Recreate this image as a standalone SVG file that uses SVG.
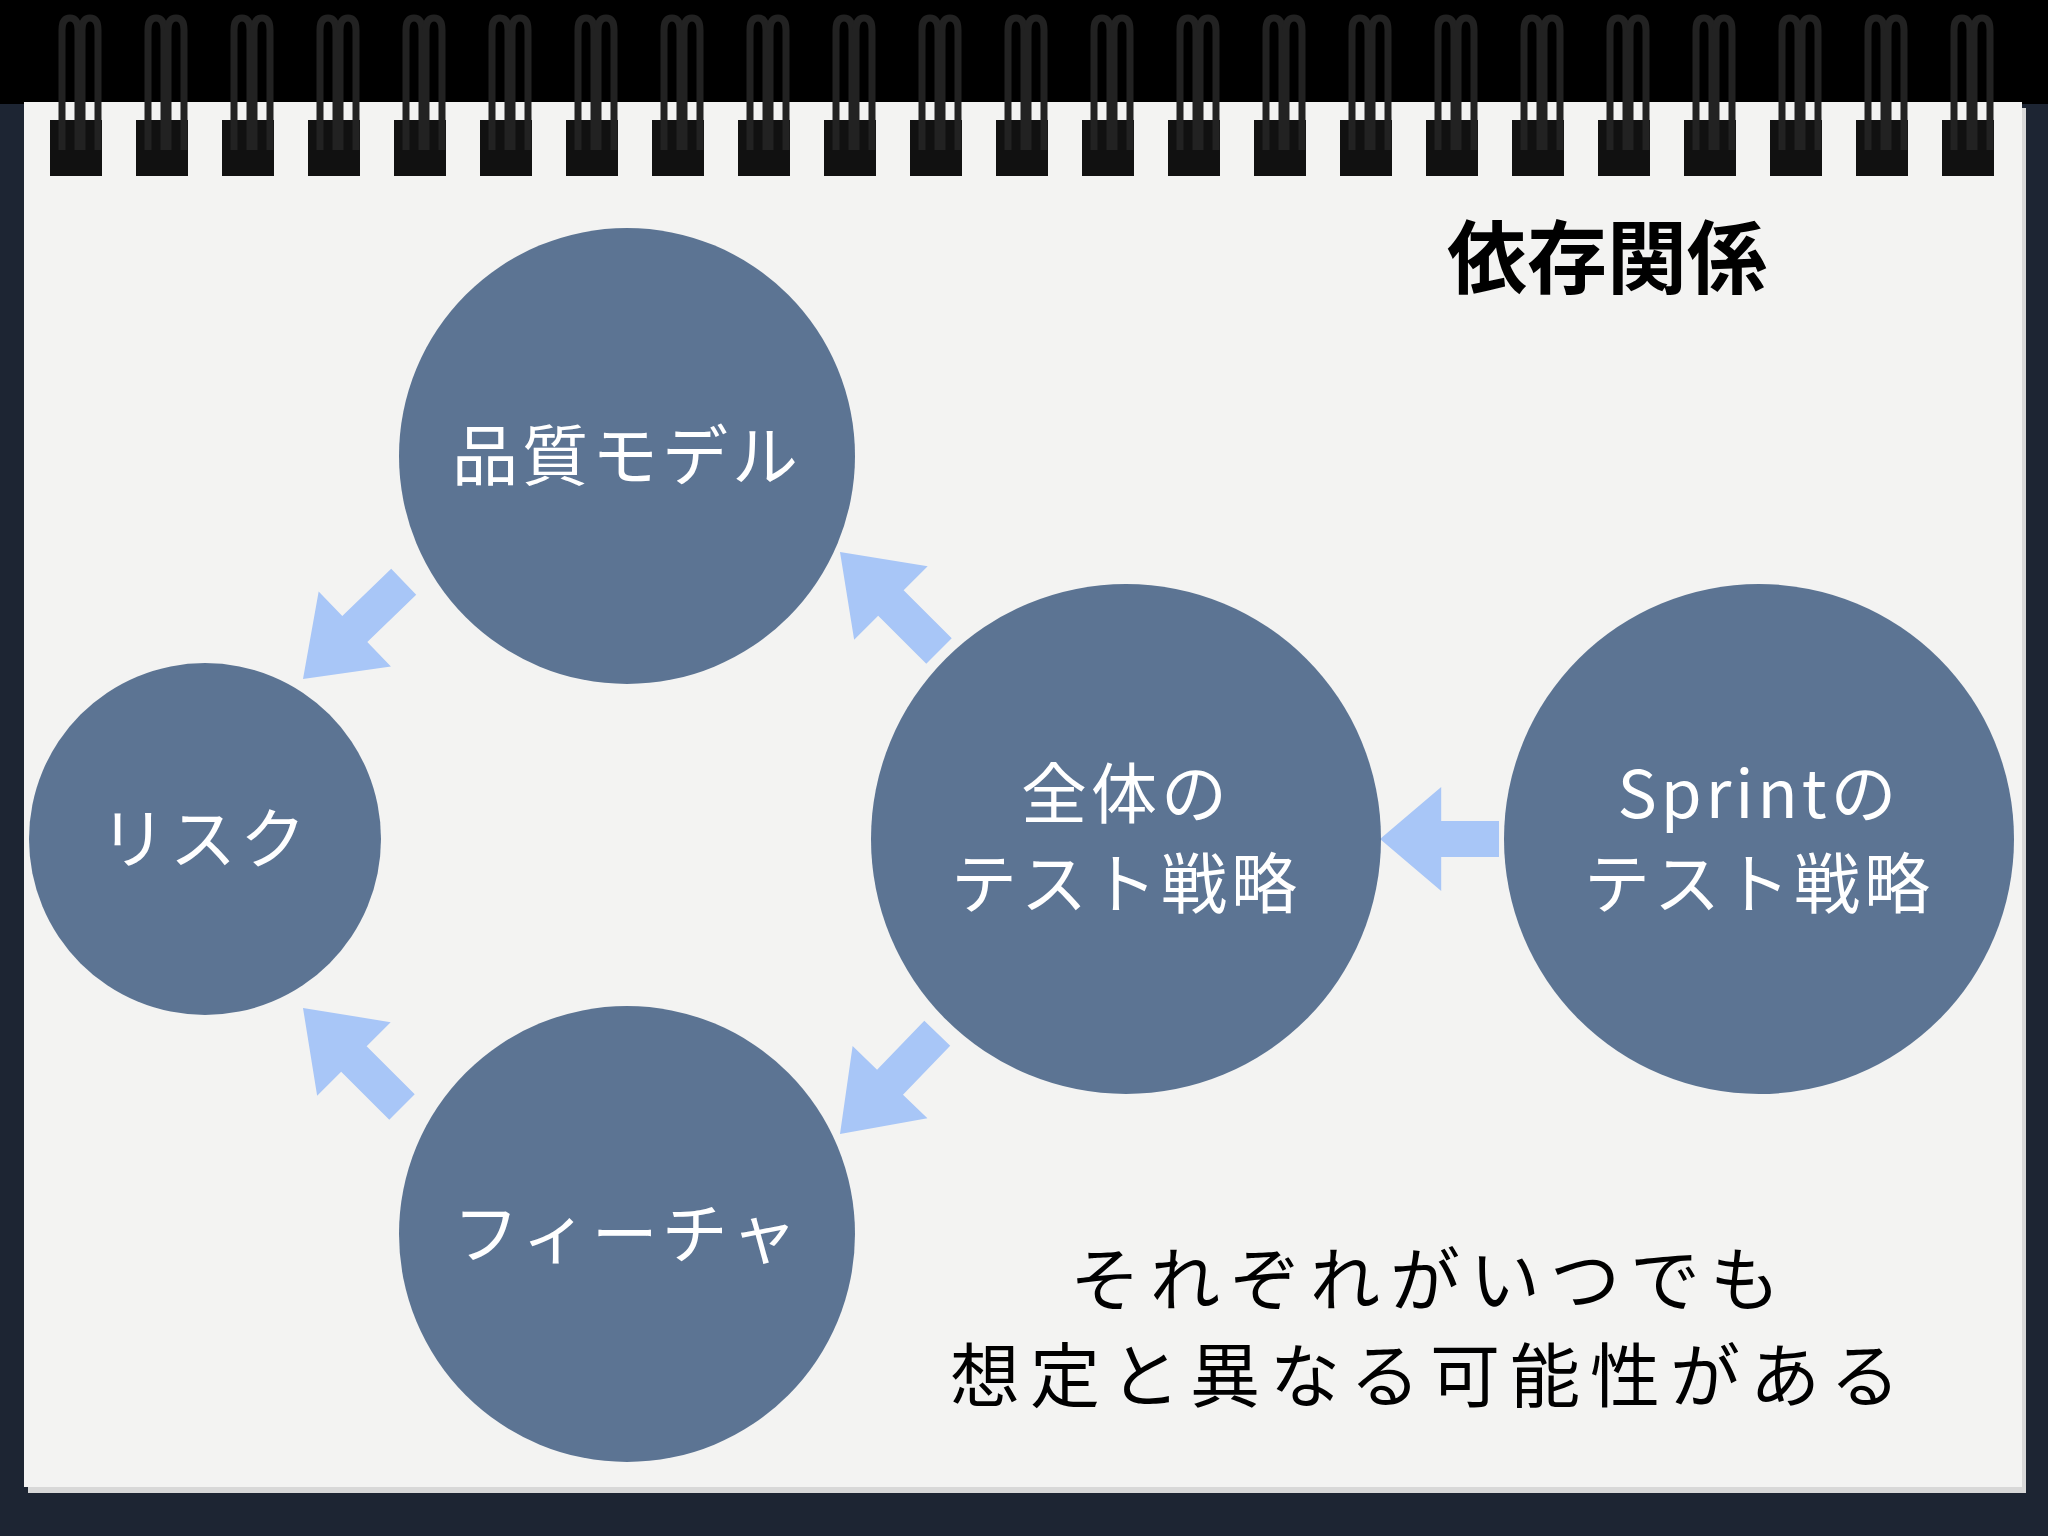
<svg xmlns="http://www.w3.org/2000/svg" width="2048" height="1536" viewBox="0 0 2048 1536">
<defs>
<style>
.c{fill:#5c7493}
.t{fill:#fff;font-family:"Noto Sans CJK JP",sans-serif;font-size:66px;text-anchor:middle;letter-spacing:4px}
.k{fill:#000;font-family:"Noto Sans CJK JP",sans-serif;text-anchor:middle}
.a{fill:#a8c6f7}
.ring{fill:none;stroke:#222;stroke-width:7}
</style>
<path id="arr" d="M0,0 L-72,-52 L-72,-18 L-140,-18 L-140,18 L-72,18 L-72,52 Z"/>
<g id="sp">
<rect x="-26" y="120" width="52" height="56" fill="#111"/>
<path class="ring" d="M-14,150 L-14,30 Q-14,18 -6,18 Q2,18 2,30 L2,150"/>
<path class="ring" d="M6,150 L6,30 Q6,18 14,18 Q22,18 22,30 L22,150"/>
</g>
</defs>
<rect width="2048" height="1536" fill="#1d2533"/>
<rect x="0" y="0" width="2048" height="104" fill="#000"/>
<rect x="28" y="108" width="1998" height="1385" fill="#d8d8d8"/>
<rect x="24" y="102" width="1998" height="1385" fill="#f3f3f2"/>
<g id="spiral">
<use href="#sp" x="76"/><use href="#sp" x="162"/><use href="#sp" x="248"/><use href="#sp" x="334"/><use href="#sp" x="420"/><use href="#sp" x="506"/><use href="#sp" x="592"/><use href="#sp" x="678"/><use href="#sp" x="764"/><use href="#sp" x="850"/><use href="#sp" x="936"/><use href="#sp" x="1022"/><use href="#sp" x="1108"/><use href="#sp" x="1194"/><use href="#sp" x="1280"/><use href="#sp" x="1366"/><use href="#sp" x="1452"/><use href="#sp" x="1538"/><use href="#sp" x="1624"/><use href="#sp" x="1710"/><use href="#sp" x="1796"/><use href="#sp" x="1882"/><use href="#sp" x="1968"/>
</g>
<text class="k" x="1607" y="287" font-size="80" font-weight="bold">依存関係</text>
<g id="connectors">
<use href="#arr" class="a" transform="translate(303,679) rotate(136)"/>
<use href="#arr" class="a" transform="translate(840,552) rotate(225)"/>
<use href="#arr" class="a" transform="translate(1380,839) rotate(180) scale(0.85,1)"/>
<use href="#arr" class="a" transform="translate(840,1134) rotate(134)"/>
<use href="#arr" class="a" transform="translate(303,1008) rotate(225)"/>
</g>
<g id="quality"><circle class="c" cx="627" cy="456" r="228"/><text class="t" x="627" y="480">品質モデル</text></g>
<g id="risk"><circle class="c" cx="205" cy="839" r="176"/><text class="t" x="205" y="863">リスク</text></g>
<g id="feature"><circle class="c" cx="627" cy="1234" r="228"/><text class="t" x="627" y="1258">フィーチャ</text></g>
<g id="overall"><circle class="c" cx="1126" cy="839" r="255"/><text class="t" x="1126" y="818">全体の</text><text class="t" x="1126" y="908">テスト戦略</text></g>
<g id="sprint"><circle class="c" cx="1759" cy="839" r="255"/><text class="t" x="1759" y="818">Sprintの</text><text class="t" x="1759" y="908">テスト戦略</text></g>
<text class="k" x="1430" y="1306" font-size="70" letter-spacing="10">それぞれがいつでも</text>
<text class="k" x="1430" y="1402" font-size="70" letter-spacing="10">想定と異なる可能性がある</text>
</svg>
